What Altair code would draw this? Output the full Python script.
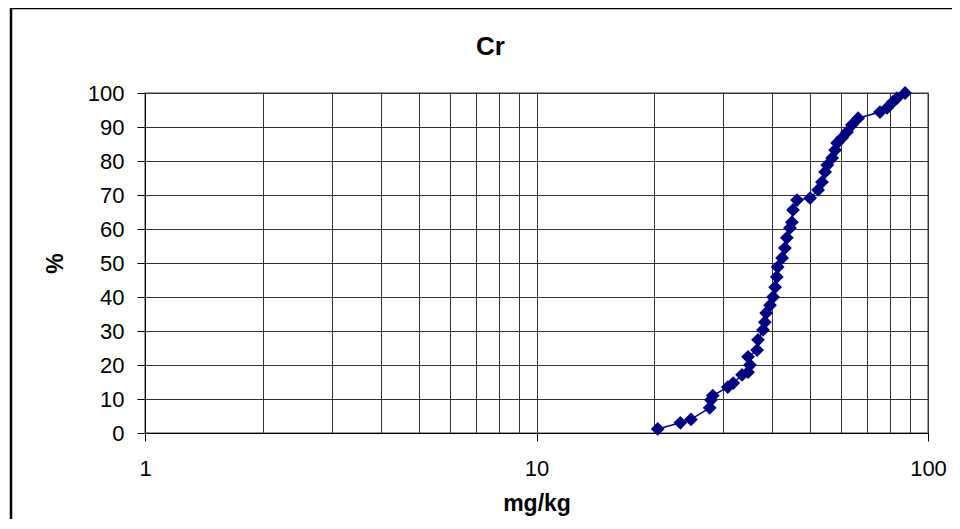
import altair as alt
import pandas as pd

# Cumulative distribution of Cr (mg/kg) vs cumulative percent
cr_mgkg = [20.4, 23.3, 24.8, 27.7, 27.9, 28.2, 30.8, 31.8, 33.5, 34.7, 35.1, 34.7,
           36.6, 36.8, 37.9, 38.3, 38.6, 39.5, 40.2, 40.7, 41.1, 41.3, 42.4, 43.1,
           43.6, 44.4, 44.9, 45.2, 46.3, 50.0, 52.4, 53.6, 54.6, 55.3, 56.9, 57.9,
           58.6, 60.3, 62.1, 63.9, 66.3, 75.4, 78.6, 81.4, 83.3, 87.4]
cum_pct = [1.2, 3.0, 4.0, 7.4, 9.7, 11.0, 13.5, 14.7, 17.1, 17.9, 20.0, 22.4,
           24.4, 27.4, 30.3, 32.6, 35.3, 37.6, 40.0, 42.9, 45.9, 48.8, 51.5, 54.4,
           57.4, 60.3, 62.0, 65.6, 68.5, 69.1, 71.5, 73.8, 76.8, 78.8, 80.9, 83.2,
           85.3, 86.8, 88.5, 90.6, 92.6, 94.4, 95.6, 97.4, 98.5, 100.0]

x_grid = [1, 2, 3, 4, 5, 6, 7, 8, 9, 10, 20, 30, 40, 50, 60, 70, 80, 90, 100]
y_ticks = list(range(0, 101, 10))

df = pd.DataFrame({"cr": cr_mgkg, "pct": cum_pct, "ord": range(len(cr_mgkg))})

FONT = "Liberation Sans"
NAVY = "#000080"
DEC = "datum.value == 1 || datum.value == 10 || datum.value == 100"

x_enc = alt.X(
    "cr:Q",
    scale=alt.Scale(type="log", domain=[1, 100], nice=False),
    axis=alt.Axis(
        title="mg/kg",
        values=x_grid,
        labelExpr="(" + DEC + ") ? datum.label : ''",
        tickOpacity={"condition": {"test": DEC, "value": 1}, "value": 0},
        format="d",
        tickSize=8,
        labelPadding=17,
        titlePadding=13,
        labelOverlap=False,
        labelFlush=False,
    ),
)
y_enc = alt.Y(
    "pct:Q",
    scale=alt.Scale(domain=[0, 100], nice=False),
    axis=alt.Axis(title="%", values=y_ticks, tickSize=8, labelPadding=13,
                  titlePadding=20, labelOverlap=False, labelFlush=False),
)

base = alt.Chart(df).encode(x=x_enc, y=y_enc)
line = base.mark_line(color=NAVY, strokeWidth=1.5).encode(order="ord:Q")
pts = base.mark_point(shape="diamond", filled=True, color=NAVY, size=190, opacity=1)

frame = alt.Chart(pd.DataFrame({"a": [0]})).mark_rect(
    fill=None, stroke="black", strokeWidth=2.5
).encode(
    x=alt.value(-134), x2=alt.value(830), y=alt.value(-85), y2=alt.value(460)
)

chart = alt.layer(frame, line, pts).properties(
    width=783,
    height=340,
    background="white",
    autosize=alt.AutoSizeParams(type="none"),
    padding={"left": 137, "top": 85, "right": 24, "bottom": 86},
    title=alt.TitleParams("Cr", fontSize=26, font=FONT, fontWeight="bold", color="black",
                          dx=-46, dy=53, offset=0, anchor="middle"),
).configure_axis(
    labelFont=FONT,
    labelFontSize=22,
    labelColor="black",
    titleFont=FONT,
    titleFontSize=23,
    titleFontWeight="bold",
    titleColor="black",
    domainColor="black",
    tickColor="black",
    gridColor="#333333",
    gridWidth=1,
    gridOpacity=1,
    grid=True,
).configure_view(
    stroke="#808080", strokeWidth=1.5
)

chart.save("out.html", embed_options={"renderer": "svg", "actions": False})
